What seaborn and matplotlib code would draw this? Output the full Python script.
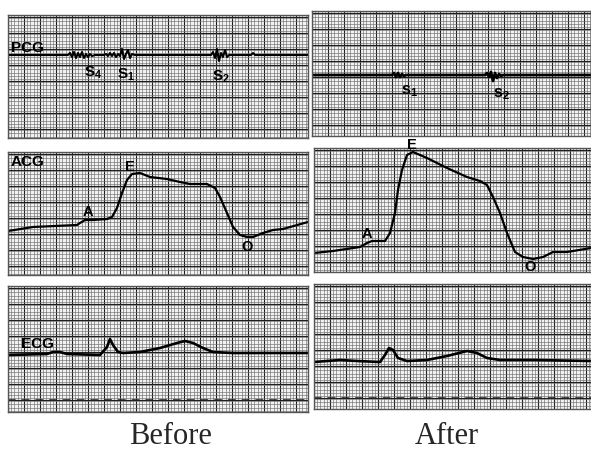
import numpy as np
import pandas as pd
import matplotlib
matplotlib.use("Agg")
import matplotlib.pyplot as plt
from matplotlib.ticker import MultipleLocator
import seaborn as sns

# ---------------- data (image pixel units) ----------------
# PCG traces
pcg_before_x = [8, 68, 70, 72, 74, 76, 78, 80, 82, 84, 86, 88, 90, 92, 95,
                104, 106, 108, 110, 112, 114, 116, 118, 120, 122, 124, 126, 128, 130, 132, 135,
                211, 213, 215, 217, 219, 221, 223, 225, 227, 229, 251, 253, 255, 308]
pcg_before_y = [55, 55, 53, 57, 52, 58, 53, 57, 52, 58, 54, 57, 54, 56, 55,
                55, 54, 56, 53, 56, 53, 57, 54, 56, 49, 59, 54, 50, 58, 54, 55,
                55, 52, 58, 49, 61, 53, 57, 50, 57, 55, 55, 53, 55, 55]
pcg_after_x = [312, 392, 394, 396, 398, 400, 402, 404, 406, 408,
               485, 487, 489, 491, 493, 495, 497, 499, 501, 503, 591]
pcg_after_y = [75, 75, 73, 77, 73, 77, 74, 76, 75, 75,
               75, 73, 77, 72, 81, 73, 78, 74, 76, 75, 75]

# ACG traces
acg_before_x = [8, 33, 77, 80, 85, 93, 107, 112, 117, 122, 127, 132, 140, 150, 167, 180,
                190, 207, 215, 220, 227, 233, 240, 247, 253, 263, 273, 283, 308]
acg_before_y = [231, 227, 225, 223, 220, 220, 219, 217, 208, 193, 180, 174, 173, 177, 179, 182,
                184, 184, 188, 197, 213, 227, 235, 237, 237, 233, 230, 229, 222]
acg_after_x = [314, 333, 360, 367, 372, 385, 390, 395, 398, 402, 407, 413, 427, 447, 467, 480,
               487, 493, 500, 507, 515, 523, 533, 543, 553, 567, 591]
acg_after_y = [253, 251, 247, 243, 241, 241, 233, 213, 190, 170, 155, 152, 158, 168, 177, 181,
               185, 197, 213, 233, 252, 257, 259, 257, 252, 252, 248]

# ECG traces
ecg_before_x = [8, 47, 53, 60, 67, 100, 107, 110, 113, 118, 123, 140, 160, 177, 185, 193,
                203, 213, 233, 308]
ecg_before_y = [355, 354, 352, 352, 354, 355, 347, 339, 345, 352, 353, 352, 348, 343, 341, 343,
                348, 352, 353, 353]
ecg_after_x = [314, 327, 340, 357, 380, 385, 389, 393, 398, 407, 427, 447, 467, 477, 487,
               500, 533, 591]
ecg_after_y = [362, 361, 360, 361, 362, 355, 348, 350, 358, 361, 360, 356, 351, 353, 358,
               360, 360, 361]

# labels
row_labels = ["PCG", "ACG", "ECG"]
column_titles = ["Before", "After"]
acg_before_marks = [("A", 88, 212), ("E", 130, 167), ("O", 247, 247)]
acg_after_marks = [("A", 367, 234), ("E", 412, 145), ("O", 530, 267)]
pcg_before_marks = [(r"$\mathbf{S_4}$", 84, 73), (r"$\mathbf{S_1}$", 117, 75), (r"$\mathbf{S_2}$", 212, 77)]
pcg_after_marks = [(r"$\mathbf{s_1}$", 401, 91), (r"$\mathbf{s_2}$", 493, 94)]

# ---------------- layout ----------------
W, H = 591, 450
sns.set_theme(style="white")
plt.rcParams["font.family"] = ["Liberation Sans", "DejaVu Sans"]
plt.rcParams["mathtext.fontset"] = "custom"
plt.rcParams["mathtext.bf"] = "Liberation Sans:bold"
plt.rcParams["mathtext.rm"] = "Liberation Sans"
fig = plt.figure(figsize=(W / 100, H / 100), dpi=100)

panels = {
    ("PCG", 0): (8, 15, 308, 138),
    ("PCG", 1): (312, 11, 591, 136),
    ("ACG", 0): (8, 152, 308, 275),
    ("ACG", 1): (314, 148, 591, 272),
    ("ECG", 0): (8, 286, 308, 412),
    ("ECG", 1): (314, 284, 591, 409),
}

traces = {
    ("PCG", 0): (pcg_before_x, pcg_before_y, 1.5),
    ("PCG", 1): (pcg_after_x, pcg_after_y, 2.0),
    ("ACG", 0): (acg_before_x, acg_before_y, 1.6),
    ("ACG", 1): (acg_after_x, acg_after_y, 1.6),
    ("ECG", 0): (ecg_before_x, ecg_before_y, 1.9),
    ("ECG", 1): (ecg_after_x, ecg_after_y, 1.9),
}

axes = {}
for key, (x0, y0, x1, y1) in panels.items():
    ax = fig.add_axes([x0 / W, 1 - y1 / H, (x1 - x0) / W, (y1 - y0) / H])
    ax.set_xlim(x0, x1)
    ax.set_ylim(y1, y0)
    ax.set_facecolor("#f2f2f2")
    ax.xaxis.set_major_locator(MultipleLocator(16, offset=x0 % 16))
    ax.xaxis.set_minor_locator(MultipleLocator(3.2, offset=x0 % 3.2))
    ax.yaxis.set_major_locator(MultipleLocator(16, offset=(y0 + 2) % 16))
    ax.yaxis.set_minor_locator(MultipleLocator(3.2, offset=y0 % 3.2))
    ax.grid(which="minor", color="#6e6e6e", lw=0.45)
    ax.grid(which="major", color="#1e1e1e", lw=0.8)
    ax.tick_params(which="both", length=0, labelbottom=False, labelleft=False)
    for s in ax.spines.values():
        s.set_color("#555555")
        s.set_linewidth(1.0)
    ax.set_axisbelow(True)
    xs, ys, lw = traces[key]
    df = pd.DataFrame({"x": xs, "y": ys})
    sns.lineplot(data=df, x="x", y="y", ax=ax, color="black", lw=lw,
                 sort=False, estimator=None)
    ax.set_xlabel("")
    ax.set_ylabel("")
    axes[key] = ax

# faint dashed reference line near bottom of ECG strips
axes[("ECG", 0)].axhline(399.5, color="#222222", lw=1.1, ls=(0, (5, 4)))
axes[("ECG", 1)].axhline(397.5, color="#222222", lw=1.1, ls=(0, (5, 4)))

lab_kw = dict(fontweight="heavy", color="black", clip_on=False)

# row labels
axes[("PCG", 0)].text(11, 48, row_labels[0], fontsize=11, ha="left", va="center", **lab_kw)
axes[("ACG", 0)].text(11, 162, row_labels[1], fontsize=11, ha="left", va="center", **lab_kw)
axes[("ECG", 0)].text(21, 344, row_labels[2], fontsize=11, ha="left", va="center", **lab_kw)

for lab, x, y in acg_before_marks:
    axes[("ACG", 0)].text(x, y, lab, fontsize=10.5, ha="center", va="center", **lab_kw)
for lab, x, y in acg_after_marks:
    axes[("ACG", 1)].text(x, y, lab, fontsize=10.5, ha="center", va="center", **lab_kw)

for lab, x, y in pcg_before_marks:
    axes[("PCG", 0)].text(x, y, lab, fontsize=11, ha="left", va="center", **lab_kw)
for lab, x, y in pcg_after_marks:
    axes[("PCG", 1)].text(x, y, lab, fontsize=11.5, ha="left", va="center", **lab_kw)

# column titles
fig.text(171 / W, 1 - 444 / H, column_titles[0], fontsize=22, ha="center", va="baseline",
         family=["Liberation Serif", "DejaVu Serif"])
fig.text(447 / W, 1 - 444 / H, column_titles[1], fontsize=22, ha="center", va="baseline",
         family=["Liberation Serif", "DejaVu Serif"])

fig.savefig("out.png", dpi=100, facecolor="white")
